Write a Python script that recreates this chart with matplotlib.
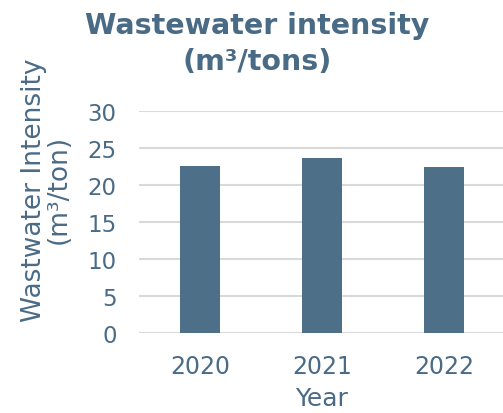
import matplotlib.pyplot as plt

# data
years = ['2020', '2021', '2022']
intensity = [22.6, 23.7, 22.5]

txt_col = '#4a6b86'
bar_col = '#4d6f87'

plt.rcParams['font.family'] = ['DejaVu Sans']

fig = plt.figure(figsize=(5.03, 4.14), dpi=100)
ax = fig.add_axes([0.276, 0.193, 0.728, 0.536])

ax.bar(range(len(years)), intensity, width=0.33, color=bar_col, zorder=3)
ax.set_xlim(-0.5, 2.5)
ax.set_ylim(0, 30)
ax.set_yticks(range(0, 31, 5))
ax.set_xticks(range(len(years)))
ax.set_xticklabels(years)
ax.grid(axis='y', color='#d9d9d9', linewidth=1.5, zorder=0)
ax.tick_params(length=0, labelcolor=txt_col)
ax.tick_params(axis='y', labelsize=16.5, pad=16)
ax.tick_params(axis='x', labelsize=17, pad=15)
for s in ax.spines.values():
    s.set_visible(False)

ax.set_xlabel('Year', fontsize=18, color=txt_col, labelpad=6)
ax.set_ylabel('Wastwater Intensity\n(m³/ton)', fontsize=19, color=txt_col,
              linespacing=0.95)
ax.yaxis.set_label_coords(-0.183, 0.65)

fig.text(0.511, 0.894, 'Wastewater intensity\n(m³/tons)', ha='center', va='center',
         fontsize=20.5, fontweight='bold', color=txt_col, linespacing=1.35)

fig.savefig('out.png', dpi=100)
